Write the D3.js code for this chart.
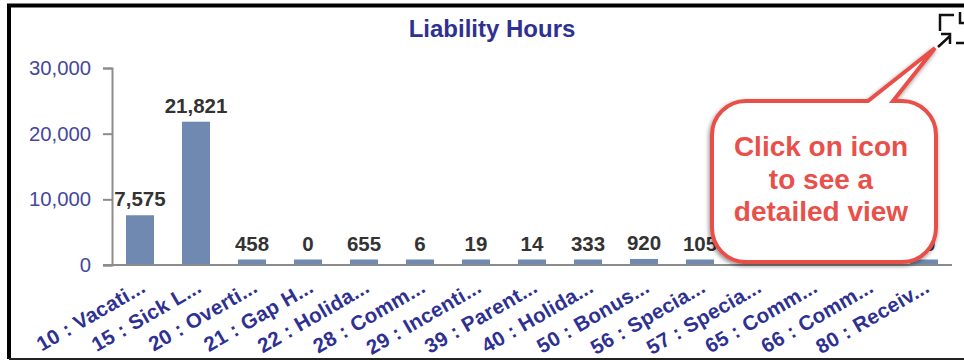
<!DOCTYPE html>
<html>
<head>
<meta charset="utf-8">
<script src="https://cdn.jsdelivr.net/npm/d3@7"></script>
<style>
    html, body { margin: 0; padding: 0; background: #fff; overflow: hidden; }
    svg { display: block; font-family: "Liberation Sans", Arial, sans-serif; }
    .axis path, .axis line { stroke: #8c8c8c; stroke-width: 2; }
</style>
</head>
<body>
<div id="chart"></div>
<script>
const categories = ["10 : Vacati...", "15 : Sick L...", "20 : Overti...", "21 : Gap H...", "22 : Holida...",
    "28 : Comm...", "29 : Incenti...", "39 : Parent...", "40 : Holida...", "50 : Bonus...",
    "56 : Specia...", "57 : Specia...", "65 : Comm...", "66 : Comm...", "80 : Receiv..."];
const hours = [7575, 21821, 458, 0, 655, 6, 19, 14, 333, 920, 105, 12, 40, 8, 30];
const yTicks = [0, 10000, 20000, 30000];

const width = 964;
const height = 360;
const margin = { top: 68, right: 12, bottom: 95, left: 112 };
const minBarHeight = 5.5; // small values still get a visible stub

const blue = "#2e3192";
const red = "#e9504a";

const svg = d3.select("#chart").append("svg")
    .attr("width", width)
    .attr("height", height);

// ——— FRAME ————————————————————————————————————————————————————————
svg.append("path")
    .attr("d", `M${width},5.5 H9 V359`)
    .attr("fill", "none")
    .attr("stroke", "#000")
    .attr("stroke-width", 4);
svg.append("line")
    .attr("x1", 9).attr("x2", width)
    .attr("y1", 359).attr("y2", 359)
    .attr("stroke", "#222")
    .attr("stroke-width", 2);

svg.append("text")
    .attr("x", 492)
    .attr("y", 37)
    .attr("text-anchor", "middle")
    .attr("fill", blue)
    .style("font-size", "24px")
    .style("font-weight", "bold")
    .text("Liability Hours");

// ——— SCALES ————————————————————————————————————————————————————————
const xScale = d3.scaleBand()
    .domain(categories)
    .range([margin.left, width - margin.right])
    .paddingInner(0.5)
    .paddingOuter(0.25);

const yScale = d3.scaleLinear()
    .domain([0, 30000])
    .range([height - margin.bottom, margin.top]);

// ——— BARS ——————————————————————————————————————————————————————————
const barTop = (v) => Math.min(yScale(v), yScale(0) - minBarHeight);

svg.selectAll(".bar")
    .data(hours)
    .enter()
    .append("rect")
    .attr("class", "bar")
    .attr("x", (d, i) => xScale(categories[i]))
    .attr("width", xScale.bandwidth())
    .attr("y", barTop)
    .attr("height", (d) => yScale(0) - barTop(d))
    .attr("fill", "#7089b0");

// ——— AXES ——————————————————————————————————————————————————————————
const yAxis = svg.append("g")
    .attr("class", "axis")
    .attr("transform", `translate(${margin.left},0)`)
    .call(d3.axisLeft(yScale).tickValues(yTicks).tickSize(9).tickSizeOuter(9).tickFormat(d3.format(",")));
yAxis.selectAll("text")
    .attr("x", -21)
    .attr("fill", "#45479c")
    .style("font-size", "20.3px");

const xAxis = svg.append("g")
    .attr("class", "axis")
    .attr("transform", `translate(0,${height - margin.bottom})`)
    .call(d3.axisBottom(xScale).tickSize(0).tickSizeOuter(0));
xAxis.select(".domain").attr("d", `M${margin.left - 9},0 H${width - margin.right}`);
xAxis.selectAll("text")
    .attr("text-anchor", "end")
    .attr("x", 0)
    .attr("y", 0)
    .attr("dy", 0)
    .attr("transform", "translate(7,26) rotate(-30)")
    .attr("fill", blue)
    .style("font-size", "20.5px")
    .style("letter-spacing", "0.3px")
    .style("font-weight", "bold");

// ——— VALUE LABELS ——————————————————————————————————————————————————
svg.selectAll(".value")
    .data(hours)
    .enter()
    .append("text")
    .attr("class", "value")
    .attr("x", (d, i) => xScale(categories[i]) + xScale.bandwidth() / 2)
    .attr("y", (d) => barTop(d) - 9)
    .attr("text-anchor", "middle")
    .attr("fill", "#333")
    .style("font-size", "20.5px")
    .style("font-weight", "bold")
    .text(d3.format(","));

// ——— EXPAND ICON ———————————————————————————————————————————————————
svg.append("path")
    .attr("d", "M940,31 V15 H954 M960,12 V23 H970 M938,47 L950,36 M941,34 H950 V44 M956,43 H970")
    .attr("fill", "none")
    .attr("stroke", "#111")
    .attr("stroke-width", 2.5);

// ——— CALLOUT ———————————————————————————————————————————————————————
const shadow = svg.append("defs").append("filter")
    .attr("id", "calloutShadow")
    .attr("x", "-10%").attr("y", "-10%")
    .attr("width", "120%").attr("height", "120%");
shadow.append("feDropShadow")
    .attr("dx", -1).attr("dy", 2)
    .attr("stdDeviation", 2)
    .attr("flood-color", "#000")
    .attr("flood-opacity", 0.45);

svg.append("path")
    .attr("d", "M746,101 H868 L935,48 L893,101 H902 A34,34 0 0 1 936,135 V228 A34,34 0 0 1 902,262 H746 A34,34 0 0 1 712,228 V135 A34,34 0 0 1 746,101 Z")
    .attr("fill", "#fff")
    .attr("stroke", red)
    .attr("stroke-width", 4)
    .attr("filter", "url(#calloutShadow)");

const calloutLines = ["Click on icon", "to see a", "detailed view"];
svg.selectAll(".callout")
    .data(calloutLines)
    .enter()
    .append("text")
    .attr("class", "callout")
    .attr("x", 821)
    .attr("y", (d, i) => 156 + i * 32.5)
    .attr("text-anchor", "middle")
    .attr("fill", red)
    .style("font-size", "28px")
    .style("font-weight", "bold")
    .text((d) => d);
</script>
</body>
</html>
